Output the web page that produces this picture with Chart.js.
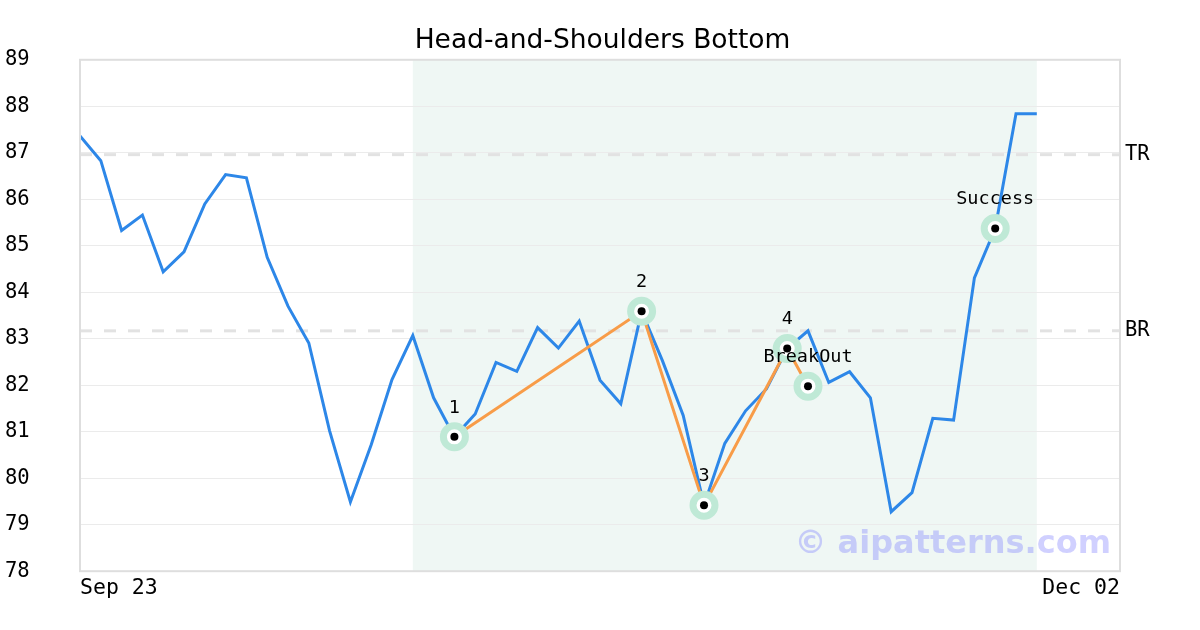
<!DOCTYPE html>
<html>
<head>
<meta charset="utf-8">
<script src="https://cdn.jsdelivr.net/npm/chart.js"></script>
<style>
  html, body { margin: 0; padding: 0; background: #fff; }
</style>
</head>
<body>
<canvas id="myChart" width="1200" height="630"></canvas>
<script>
// closing prices, one per trading day (index 0 = Sep 23)
var closes = [87.36, 86.83, 85.33, 85.66, 84.44, 84.87, 85.90, 86.53, 86.46, 84.75,
  83.70, 82.91, 81.02, 79.49, 80.72, 82.12, 83.07, 81.73, 80.89, 81.38,
  82.49, 82.30, 83.24, 82.80, 83.38, 82.11, 81.60, 83.59, 82.53, 81.35,
  79.42, 80.75, 81.45, 81.92, 82.79, 83.17, 82.06, 82.29, 81.73, 79.28,
  79.69, 81.29, 81.25, 84.31, 85.37, 87.84, 87.84];

var pivotIdx = [18, 27, 30, 34, 35, 44];
var pivotVals = [80.89, 83.59, 79.42, 82.79, 81.98, 85.37];
var pivotNames = ['1', '2', '3', '4', 'BreakOut', 'Success'];
var patternCount = 5; // first five pivots joined by the orange line

var levelNames = ['BR', 'TR'];
var levelVals = [83.17, 86.96];

var xTickPos = [0, 50];
var xTickLabels = ['Sep 23', 'Dec 02'];

var shadeFrom = 16, shadeTo = 46;

var mono = "'DejaVu Sans Mono', monospace";

var priceData = closes.map(function (v, i) { return {x: i, y: v}; });
var patternData = [];
for (var i = 0; i < patternCount; i++) patternData.push({x: pivotIdx[i], y: pivotVals[i]});
var pivotData = pivotIdx.map(function (x, i) { return {x: x, y: pivotVals[i]}; });

var levelSets = levelVals.map(function (v) {
    return {
        data: [{x: xTickPos[0], y: v}, {x: xTickPos[1], y: v}],
        borderColor: '#e2e2e2',
        borderWidth: 3,
        borderDash: [12, 12],
        pointRadius: 0,
        fill: false,
        order: 5
    };
});

var paperPlugin = {
    id: 'paper',
    beforeDraw: function (chart) {
        var ctx = chart.ctx, a = chart.chartArea, xs = chart.scales.x;
        ctx.save();
        ctx.fillStyle = '#fff';
        ctx.fillRect(0, 0, chart.width, chart.height);
        var x1 = xs.getPixelForValue(shadeFrom), x2 = xs.getPixelForValue(shadeTo);
        ctx.fillStyle = '#eff7f4';
        ctx.fillRect(x1, a.top, x2 - x1, a.bottom - a.top);
        ctx.restore();
    },
    afterDatasetsDraw: function (chart) {
        var ctx = chart.ctx;
        var meta = chart.getDatasetMeta(4);
        ctx.save();
        ctx.font = '18.5px ' + mono;
        ctx.fillStyle = '#000';
        ctx.textAlign = 'center';
        ctx.textBaseline = 'middle';
        meta.data.forEach(function (pt, i) {
            ctx.fillText(pivotNames[i], pt.x, pt.y - 29);
        });
        ctx.restore();
    },
    afterDraw: function (chart) {
        var ctx = chart.ctx, a = chart.chartArea;
        ctx.save();
        ctx.strokeStyle = '#dedede';
        ctx.lineWidth = 2;
        ctx.strokeRect(a.left, a.top, a.right - a.left, a.bottom - a.top);
        ctx.font = "bold 32px 'DejaVu Sans', sans-serif";
        ctx.fillStyle = 'rgba(120, 120, 255, 0.35)';
        ctx.textAlign = 'right';
        ctx.textBaseline = 'middle';
        ctx.fillText('\u00a9 aipatterns.com', a.right - 9, a.bottom - 27);
        ctx.restore();
    }
};

new Chart('myChart', {
    type: 'line',
    data: {
        datasets: [
            {
                data: priceData,
                borderColor: '#2d87e8',
                borderWidth: 3,
                pointRadius: 0,
                fill: false,
                order: 4
            },
            levelSets[0],
            levelSets[1],
            {
                data: patternData,
                borderColor: '#f89c48',
                borderWidth: 3,
                pointRadius: 0,
                fill: false,
                order: 3
            },
            {
                data: pivotData,
                showLine: false,
                pointRadius: 11,
                pointBackgroundColor: '#fff',
                pointBorderColor: '#bfe9d6',
                pointBorderWidth: 7,
                order: 2
            },
            {
                data: pivotData,
                showLine: false,
                pointRadius: 4,
                pointBackgroundColor: '#000',
                pointBorderWidth: 0,
                order: 1
            }
        ]
    },
    options: {
        responsive: false,
        animation: false,
        layout: {padding: {left: 5, right: 0, top: 0, bottom: 25}},
        plugins: {
            legend: {display: false},
            tooltip: {enabled: false},
            title: {
                display: true,
                text: 'Head-and-Shoulders Bottom',
                color: '#000',
                font: {family: "'DejaVu Sans', sans-serif", size: 26.5, weight: 'normal'},
                padding: {top: 25, bottom: 3}
            }
        },
        scales: {
            x: {
                type: 'linear',
                min: 0,
                max: 50,
                afterBuildTicks: function (axis) {
                    axis.ticks = xTickPos.map(function (v) { return {value: v}; });
                },
                ticks: {
                    align: 'inner',
                    maxRotation: 0,
                    padding: 4,
                    color: '#000',
                    font: {family: mono, size: 21.5},
                    callback: function (v) { return xTickLabels[xTickPos.indexOf(v)]; }
                },
                grid: {display: false, drawTicks: false},
                border: {display: false}
            },
            y: {
                min: 78,
                max: 89,
                afterFit: function (axis) { axis.width = 75; },
                ticks: {
                    stepSize: 1,
                    crossAlign: 'far',
                    color: '#000',
                    font: {family: mono, size: 20.5}
                },
                grid: {color: '#ebebeb', lineWidth: 1, drawTicks: false},
                border: {display: false}
            },
            y2: {
                position: 'right',
                min: 78,
                max: 89,
                afterFit: function (axis) { axis.width = 80; },
                afterBuildTicks: function (axis) {
                    axis.ticks = levelVals.map(function (v) { return {value: v}; });
                },
                ticks: {
                    padding: 5,
                    color: '#000',
                    font: {family: mono, size: 20.5},
                    callback: function (v) { return levelNames[levelVals.indexOf(v)]; }
                },
                grid: {display: false, drawTicks: false},
                border: {display: false}
            }
        }
    },
    plugins: [paperPlugin]
});
</script>
</body>
</html>
